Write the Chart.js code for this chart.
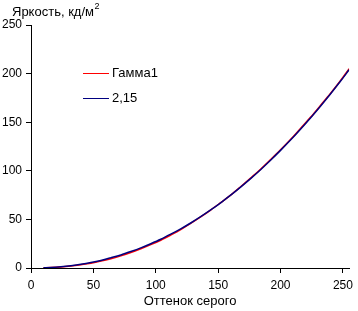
<!DOCTYPE html>
<html>
<head>
<meta charset="utf-8">
<script src="https://cdn.jsdelivr.net/npm/chart.js@4.4.1/dist/chart.umd.min.js"></script>
<style>
  html, body { margin: 0; padding: 0; background: #fff; }
  #wrap { width: 358px; height: 311px; }
</style>
</head>
<body>
<div id="wrap"><canvas id="myChart"></canvas></div>
<script>
// данные
const shades = [10, 16, 24, 32, 40, 48, 56, 64, 72, 80, 88, 96, 104, 112, 120, 128,
                136, 144, 152, 160, 168, 176, 184, 192, 200, 208, 216, 224, 232, 240, 248, 255];
const gamma1 = [0.2, 0.4, 1.0, 2.0, 3.4, 5.0, 7.1, 9.6, 12.5, 15.9, 19.8, 24.0, 28.6, 33.9, 39.5, 45.8,
                52.5, 59.6, 67.2, 75.0, 83.6, 92.5, 101.6, 111.5, 121.6, 132.2, 143.6, 155.0, 167.2, 179.5, 192.6, 205];
const ideal = [0.2, 0.5, 1.3, 2.4, 3.8, 5.6, 7.8, 10.5, 13.4, 16.9, 20.7, 25.0, 29.6, 34.8, 40.3, 46.3,
               52.8, 59.7, 67.1, 74.9, 83.2, 91.9, 101.1, 110.8, 121.0, 131.6, 142.8, 154.4, 166.5, 179.1, 192.1, 204];
const xTicks = [0, 50, 100, 150, 200, 250];
const yTicks = [0, 50, 100, 150, 200, 250];
const names = ['Гамма1', '2,15'];

Chart.defaults.font.family = '"Liberation Sans", Arial, sans-serif';
Chart.defaults.font.size = 12;
Chart.defaults.color = '#000';

const toPoints = (ys) => shades.map((x, i) => ({ x: x, y: ys[i] }));

// подпись оси Y и легенда внутри графика
const extras = {
    id: 'extras',
    afterDraw(chart) {
        const c = chart.ctx;
        const a = chart.chartArea;
        c.save();
        c.font = '13px "Liberation Sans", Arial, sans-serif';
        c.fillStyle = '#000';
        c.textBaseline = 'middle';
        c.textAlign = 'left';
        c.fillText('Яркость, кд/м', a.left - 19, 12);
        const w = c.measureText('Яркость, кд/м').width;
        c.font = '9px "Liberation Sans", Arial, sans-serif';
        c.fillText('2', a.left - 19 + w + 0.5, 7);

        c.font = '13px "Liberation Sans", Arial, sans-serif';
        chart.data.datasets.forEach((ds, i) => {
            const y = 73 + i * 25;
            c.strokeStyle = ds.borderColor;
            c.lineWidth = 1;
            c.beginPath();
            c.moveTo(83, y + 0.5);
            c.lineTo(109, y + 0.5);
            c.stroke();
            c.fillStyle = '#000';
            c.fillText(ds.label, 112, y);
        });
        c.restore();
    }
};

var ctx = document.getElementById('myChart');
var myChart = new Chart(ctx, {
    type: 'line',
    data: {
        datasets: [{
            label: names[0],
            data: toPoints(gamma1),
            borderColor: '#ff0000',
            borderWidth: 1.5,
            pointRadius: 0,
            cubicInterpolationMode: 'monotone',
            order: 1
        }, {
            label: names[1],
            data: toPoints(ideal),
            borderColor: '#000080',
            borderWidth: 1.5,
            pointRadius: 0,
            cubicInterpolationMode: 'monotone',
            order: 0
        }]
    },
    options: {
        responsive: true,
        maintainAspectRatio: false,
        animation: false,
        layout: { padding: { top: 25, right: 4, left: 0, bottom: 0 } },
        plugins: {
            legend: { display: false },
            tooltip: { enabled: false }
        },
        scales: {
            x: {
                type: 'linear',
                min: 0,
                max: 255,
                afterBuildTicks: (axis) => { axis.ticks = xTicks.map(v => ({ value: v })); },
                afterFit: (axis) => { axis.height = 43; },
                border: { display: true, color: '#000', width: 1 },
                grid: { display: true, drawOnChartArea: false, drawTicks: true, tickLength: 5, color: '#000' },
                ticks: { padding: 5, maxRotation: 0, autoSkip: false },
                title: { display: true, text: 'Оттенок серого', font: { size: 13 }, padding: { top: 0, bottom: 2 } }
            },
            y: {
                min: 0,
                max: 250,
                afterBuildTicks: (axis) => { axis.ticks = yTicks.map(v => ({ value: v })); },
                afterFit: (axis) => { axis.width = 31; },
                border: { display: true, color: '#000', width: 1 },
                grid: { display: true, drawOnChartArea: false, drawTicks: true, tickLength: 5, color: '#000' },
                ticks: { padding: 4 }
            }
        }
    },
    plugins: [extras]
});
</script>
</body>
</html>
